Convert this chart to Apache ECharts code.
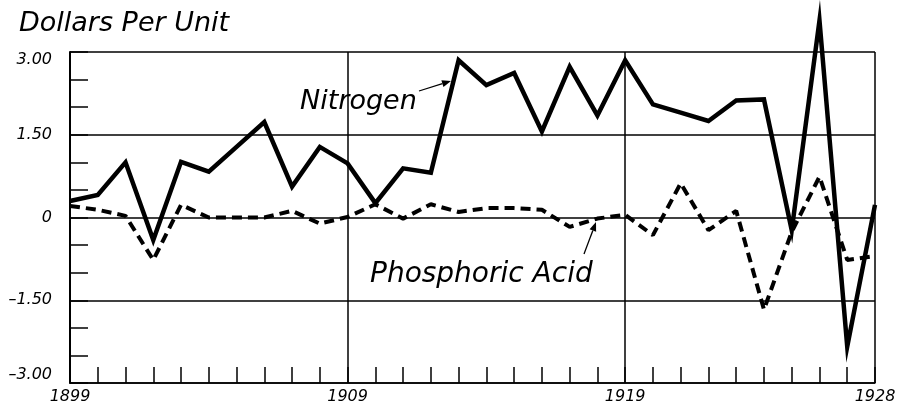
<!DOCTYPE html>
<html>
<head>
<meta charset="utf-8">
<script src="https://cdn.jsdelivr.net/npm/echarts@6/dist/echarts.min.js"></script>
<style>
  html, body { margin: 0; padding: 0; background: #fff; }
  #chart { width: 901px; height: 409px; }
</style>
</head>
<body>
<div id="chart"></div>
<script>
// values, dollars per unit
var years = ['1899','1900','1901','1902','1903','1904','1905','1906','1907','1908',
             '1909','1910','1911','1912','1913','1914','1915','1916','1917','1918',
             '1919','1920','1921','1922','1923','1924','1925','1926','1927','1928'];
var nitrogen = [0.30, 0.41, 1.00, -0.41, 1.01, 0.83, 1.28, 1.73, 0.56, 1.28,
                0.98, 0.26, 0.89, 0.81, 2.85, 2.40, 2.62, 1.56, 2.73, 1.85,
                2.85, 2.05, 1.90, 1.75, 2.12, 2.14, -0.23, 3.57, -2.34, 0.23];
var phosphoric = [0.21, 0.14, 0.03, -0.77, 0.23, 0.00, 0.00, 0.00, 0.12, -0.11,
                  0.01, 0.24, -0.02, 0.24, 0.10, 0.17, 0.17, 0.14, -0.17, -0.02,
                  0.05, -0.32, 0.62, -0.23, 0.12, -1.67, -0.26, 0.74, -0.77, -0.70];
var labelYears = ['1899', '1909', '1919', '1928'];
var gridYears = ['1909', '1919', '1928'];

var chartDom = document.getElementById('chart');
var myChart = echarts.init(chartDom);
var option;

var font = 'DejaVu Sans';

// small helper for the hand drawn pointer arrows
function arrow(x1, y1, x2, y2) {
  var a = Math.atan2(y2 - y1, x2 - x1);
  var l = 9, w = 3.5;
  var bx = x2 - l * Math.cos(a), by = y2 - l * Math.sin(a);
  return [
    { type: 'line', shape: { x1: x1, y1: y1, x2: bx, y2: by },
      style: { stroke: '#000', lineWidth: 1.3 } },
    { type: 'polygon', shape: { points: [
        [x2, y2],
        [bx + w * Math.sin(a), by - w * Math.cos(a)],
        [bx - w * Math.sin(a), by + w * Math.cos(a)]
      ] }, style: { fill: '#000' } }
  ];
}

option = {
  animation: false,
  backgroundColor: '#fff',
  title: {
    text: 'Dollars Per Unit',
    left: 14,
    top: 5,
    textStyle: { fontFamily: font, fontStyle: 'italic', fontWeight: 'normal', fontSize: 27, color: '#000' }
  },
  grid: { left: 70, right: 26, top: 52, bottom: 26 },
  xAxis: {
    type: 'category',
    data: years,
    boundaryGap: false,
    axisLine: { show: true, onZero: false, lineStyle: { color: '#000', width: 1.5 } },
    axisTick: { show: true, inside: true, length: 16, interval: 0, lineStyle: { color: '#000', width: 1.5 } },
    axisLabel: {
      interval: function (i, v) { return labelYears.indexOf(v) >= 0; },
      margin: 6,
      fontFamily: font, fontStyle: 'italic', fontSize: 16, color: '#000'
    },
    splitLine: {
      show: true,
      interval: function (i, v) { return gridYears.indexOf(v) >= 0; },
      lineStyle: { color: '#000', width: 1.5 }
    }
  },
  yAxis: {
    type: 'value',
    min: -3,
    max: 3,
    interval: 1.5,
    axisLine: { show: true, lineStyle: { color: '#000', width: 2 } },
    axisTick: { show: true, inside: true, length: 18, lineStyle: { color: '#000', width: 1.5 } },
    minorTick: { show: true, splitNumber: 3, length: 18, lineStyle: { color: '#000', width: 1.5 } },
    axisLabel: {
      margin: 18,
      verticalAlignMaxLabel: 'top',
      verticalAlignMinLabel: 'bottom',
      formatter: function (v) {
        if (v === 0) return '0';
        return (v < 0 ? '\u2013' : '') + Math.abs(v).toFixed(2);
      },
      fontFamily: font, fontStyle: 'italic', fontSize: 16, color: '#000'
    },
    splitLine: { show: true, lineStyle: { color: '#000', width: 1.5 } }
  },
  series: [
    {
      name: 'Nitrogen',
      type: 'line',
      data: nitrogen,
      showSymbol: false,
      clip: false,
      z: 3,
      lineStyle: { color: '#000', width: 4.5, join: 'miter' }
    },
    {
      name: 'Phosphoric Acid',
      type: 'line',
      data: phosphoric,
      showSymbol: false,
      clip: false,
      z: 2,
      lineStyle: { color: '#000', width: 4, type: [10, 6] }
    }
  ],
  graphic: [
    { type: 'text', left: 300, top: 88,
      style: { text: 'Nitrogen', fontFamily: font, fontStyle: 'italic', fontSize: 27, fill: '#000' } },
    { type: 'group', children: arrow(419, 91, 451, 81) },
    { type: 'text', left: 370, top: 261,
      style: { text: 'Phosphoric Acid', fontFamily: font, fontStyle: 'italic', fontSize: 28, fill: '#000' } },
    { type: 'group', children: arrow(584, 254, 596, 222) }
  ]
};

option && myChart.setOption(option);
</script>
</body>
</html>
